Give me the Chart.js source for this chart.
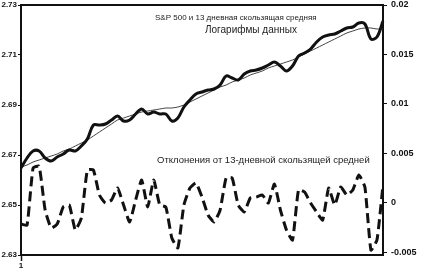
<!DOCTYPE html>
<html>
<head>
<meta charset="utf-8">
<script src="https://cdn.jsdelivr.net/npm/chart.js@4/dist/chart.umd.min.js"></script>
<style>
  html, body { margin: 0; padding: 0; background: #fff; }
  #wrap { width: 424px; height: 277px; }
</style>
</head>
<body>
<div id="wrap"><canvas id="chartSP"></canvas></div>
<script>
// Дни (ось X), показывается только первая метка
const days = Array.from({ length: 61 }, (_, i) => String(i + 1));

// Логарифмы данных S&P 500
const logPrice = [
  2.6648, 2.6688, 2.6716, 2.6716, 2.6688, 2.6676, 2.6692, 2.6704, 2.6720, 2.6716,
  2.6736, 2.6764, 2.6820, 2.6820, 2.6824, 2.6840, 2.6856, 2.6836, 2.6840, 2.6864,
  2.6884, 2.6864, 2.6872, 2.6864, 2.6864, 2.6836, 2.6848, 2.6892, 2.6920, 2.6944,
  2.6952, 2.6960, 2.6964, 2.6980, 2.7016, 2.7008, 2.7000, 2.7024, 2.7036, 2.7040,
  2.7048, 2.7060, 2.7072, 2.7056, 2.7036, 2.7056, 2.7096, 2.7108, 2.7124, 2.7152,
  2.7172, 2.7180, 2.7184, 2.7196, 2.7208, 2.7212, 2.7228, 2.7224, 2.7164, 2.7172,
  2.7236
];

// 13-дневная скользящая средняя
const movingAvg = [
  2.6652, 2.6660, 2.6672, 2.6680, 2.6688, 2.6696, 2.6704, 2.6716, 2.6724, 2.6736,
  2.6748, 2.6760, 2.6776, 2.6792, 2.6808, 2.6824, 2.6840, 2.6848, 2.6856, 2.6864,
  2.6872, 2.6876, 2.6880, 2.6884, 2.6888, 2.6888, 2.6892, 2.6900, 2.6912, 2.6924,
  2.6936, 2.6948, 2.6960, 2.6972, 2.6980, 2.6992, 2.7000, 2.7008, 2.7020, 2.7028,
  2.7036, 2.7048, 2.7056, 2.7064, 2.7072, 2.7080, 2.7092, 2.7104, 2.7116, 2.7128,
  2.7140, 2.7152, 2.7164, 2.7176, 2.7188, 2.7196, 2.7204, 2.7208, 2.7208, 2.7204,
  2.7204
];

// Отклонения от 13-дневной скользящей средней (правая шкала)
const deviation = [
  -0.00217, -0.00227, 0.00350, 0.00370, -0.00075, -0.00257, -0.00217, -0.00044, -0.00024, -0.00277,
  -0.00156, 0.00330, 0.00330, 0.00077, -0.00004, 0.00026, 0.00148, -0.00024, -0.00196, 0.00026,
  0.00229, -0.00044, 0.00229, -0.00024, -0.00044, -0.00358, -0.00459, -0.00024, 0.00148, 0.00199,
  0.00057, -0.00125, -0.00196, -0.00075, 0.00249, 0.00249, -0.00024, -0.00095, 0.00047, 0.00057,
  0.00077, -0.00004, 0.00188, -0.00075, -0.00277, -0.00379, 0.00128, 0.00107, -0.00004, -0.00095,
  -0.00176, 0.00148, -0.00024, 0.00158, 0.00077, 0.00128, 0.00279, 0.00158, -0.00480, -0.00378,
  0.00178
];

const leftTicks = [2.63, 2.65, 2.67, 2.69, 2.71, 2.73];
const rightTicks = [-0.005, 0, 0.005, 0.01, 0.015, 0.02];

// Подписи на графике
const textPlugin = {
  id: 'texts',
  afterDraw(chart) {
    const ctx = chart.ctx;
    ctx.save();
    ctx.fillStyle = '#222';
    ctx.textBaseline = 'middle';
    ctx.textAlign = 'left';
    ctx.font = '8px "Liberation Sans", Arial, sans-serif';
    ctx.fillText('S&P 500 и 13 дневная скользящая средняя', 155, 18);
    ctx.font = '10px "Liberation Sans", Arial, sans-serif';
    ctx.fillText('Логарифмы данных', 205, 30);
    ctx.font = '9.5px "Liberation Sans", Arial, sans-serif';
    ctx.fillText('Отклонения от 13-дневной скользящей средней', 157, 160);
    ctx.restore();
  }
};

const tickFont = { family: '"Liberation Sans", Arial, sans-serif', size: 8, weight: 'bold' };

// убираем запас под подписи у вертикальных осей
function fitVertical(width) {
  return s => { s.width = width; s.paddingTop = 0; s.paddingBottom = 0; };
}

new Chart(document.getElementById('chartSP'), {
  type: 'line',
  data: {
    labels: days,
    datasets: [
      {
        label: 'Логарифмы данных',
        data: logPrice,
        yAxisID: 'y',
        borderColor: '#111',
        borderWidth: 3,
        pointRadius: 0,
        tension: 0.35
      },
      {
        label: '13-дневная скользящая средняя',
        data: movingAvg,
        yAxisID: 'y',
        borderColor: '#444',
        borderWidth: 1,
        pointRadius: 0,
        tension: 0.3
      },
      {
        label: 'Отклонения',
        data: deviation,
        yAxisID: 'y1',
        borderColor: '#111',
        borderWidth: 3,
        borderDash: [10, 5],
        pointRadius: 0,
        tension: 0.15
      }
    ]
  },
  options: {
    responsive: true,
    maintainAspectRatio: false,
    animation: false,
    layout: { padding: 0 },
    plugins: { legend: { display: false }, tooltip: { enabled: false } },
    scales: {
      x: {
        type: 'category',
        offset: false,
        grid: { display: true, drawOnChartArea: false, tickLength: 6, color: '#111', tickWidth: 1.5 },
        border: { display: true, color: '#111', width: 2 },
        ticks: {
          autoSkip: false,
          maxRotation: 0,
          padding: 0,
          color: '#111',
          font: tickFont,
          callback: (v, i) => (i === 0 ? days[0] : null)
        },
        afterFit: s => { s.height = 22; s.paddingLeft = 0; s.paddingRight = 0; }
      },
      xTop: {
        type: 'category',
        position: 'top',
        offset: false,
        grid: { display: false },
        border: { display: true, color: '#111', width: 2 },
        ticks: { display: false },
        afterFit: s => { s.height = 5; }
      },
      y: {
        position: 'left',
        min: 2.63,
        max: 2.73,
        afterBuildTicks: s => { s.ticks = leftTicks.map(v => ({ value: v })); },
        grid: { drawOnChartArea: false, tickLength: 3, color: '#111' },
        border: { display: true, color: '#111', width: 2 },
        ticks: { padding: 1, color: '#111', font: tickFont, callback: v => v.toFixed(2) },
        afterFit: fitVertical(21)
      },
      y1: {
        position: 'right',
        min: -0.0053,
        max: 0.02,
        afterBuildTicks: s => { s.ticks = rightTicks.map(v => ({ value: v })); },
        grid: { drawOnChartArea: false, tickLength: 4, color: '#111' },
        border: { display: true, color: '#111', width: 2 },
        ticks: { padding: 4, color: '#111', font: { family: '"Liberation Sans", Arial, sans-serif', size: 9, weight: 'bold' }, callback: v => String(v) },
        afterFit: fitVertical(41)
      }
    }
  },
  plugins: [textPlugin]
});
</script>
</body>
</html>
